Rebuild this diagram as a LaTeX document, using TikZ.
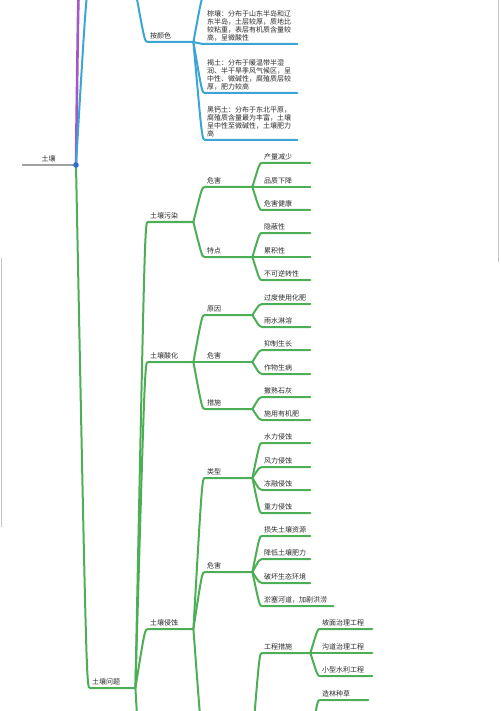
\documentclass[tikz,border=0pt]{standalone}
\usepackage{fontspec}
\newfontfamily\cjk{Noto Sans CJK SC}
\usetikzlibrary{calc}

\definecolor{mmgreen}{HTML}{4DAF55}
\definecolor{mmblue}{HTML}{3BA6D6}
\definecolor{mmpurple}{HTML}{A458C8}
\definecolor{hubblue}{HTML}{2C6FD1}
\definecolor{rootgray}{HTML}{A0A0A0}
\definecolor{edgegray}{HTML}{C4C4C4}
\definecolor{ink}{HTML}{2B2B2B}

\begin{document}
\begin{tikzpicture}[
    x=1pt, y=-1pt,
    topic/.style={anchor=south west, font=\cjk\fontsize{7}{8}\selectfont, text=ink, inner xsep=2pt, inner ysep=2.5pt, align=left, text width=#1},
    topic/.default=41pt,
    gline/.style={draw=mmgreen, line width=2pt, line cap=round},
    bline/.style={draw=mmblue, line width=2pt, line cap=round},
    pline/.style={draw=mmpurple, line width=2.6pt, line cap=round},
    rline/.style={draw=rootgray, line width=1.1pt},
    edge/.style={draw=edgegray, line width=1pt},
    link/.style={to path={.. controls ($(\tikztostart |- \tikztotarget)!0.75!(\tikztotarget)$) .. (\tikztotarget) \tikztonodes}}
]
\useasboundingbox (0,0) rectangle (500,711);
\clip (0,0) rectangle (500,711);

% page edges
\draw[edge] (1.5,258) -- (1.5,527);
\draw[edge] (498.5,0) -- (498.5,262);

% root
\node[topic=49pt, align=center] (soil) at (22,165) {土壤};
\coordinate (hub) at (76,165);

% ends of branches outside the picture
\coordinate (purpletop) at (79,-4);
\coordinate (bluetop) at (90,-12);
\coordinate (bluetopend) at (135,-12);
\coordinate (colorfirst) at (205,-5);
\coordinate (problast) at (148,850);
\coordinate (erosfix) at (205,745);
\coordinate (erosfixend) at (252,745);
\coordinate (biofixend) at (310,745);

% level 1 and 2
\node[topic] (prob) at (90,688) {土壤问题};
\node[topic] (color) at (148,42) {按颜色};
\node[topic] (poll) at (148,222) {土壤污染};
\node[topic] (acid) at (148,362) {土壤酸化};
\node[topic] (eros) at (148,629) {土壤侵蚀};

% soil types
\node[topic=88pt] (brown) at (205,44) {棕壤：分布于山东半岛和辽\\东半岛，土层较厚，质地比\\较粘重，表层有机质含量较\\高，呈微酸性};
\node[topic=88pt] (cinn) at (205,93) {褐土：分布于暖温带半湿\\润、半干旱季风气候区，呈\\中性、微碱性，腐殖质层较\\厚，肥力较高};
\node[topic=88pt] (cherno) at (205,140) {黑钙土：分布于东北平原，\\腐殖质含量最为丰富，土壤\\呈中性至微碱性，土壤肥力\\高};

% level 3
\node[topic=43pt] (pollharm) at (205,187) {危害};
\node[topic=43pt] (pollfeat) at (205,257) {特点};
\node[topic=43pt] (acidcause) at (205,315) {原因};
\node[topic=43pt] (acidharm) at (205,362) {危害};
\node[topic=43pt] (acidfix) at (205,409) {措施};
\node[topic=43pt] (erostype) at (205,478) {类型};
\node[topic=43pt] (erosharm) at (205,572) {危害};
\node[topic=44pt] (engfix) at (262,653) {工程措施};

% level 4
\node[topic=44pt] (yield) at (262,163) {产量减少};
\node[topic=44pt] (quality) at (262,187) {品质下降};
\node[topic=44pt] (health) at (262,210) {危害健康};
\node[topic=44pt] (hidden) at (262,233) {隐蔽性};
\node[topic=44pt] (accum) at (262,257) {累积性};
\node[topic=44pt] (irrev) at (262,280) {不可逆转性};
\node[topic=44pt] (fert) at (262,304) {过度使用化肥};
\node[topic=44pt] (leach) at (262,327) {雨水淋溶};
\node[topic=44pt] (growth) at (262,350) {抑制生长};
\node[topic=44pt] (disease) at (262,374) {作物生病};
\node[topic=44pt] (lime) at (262,397) {撒熟石灰};
\node[topic=44pt] (manure) at (262,420) {施用有机肥};
\node[topic=44pt] (water) at (262,443) {水力侵蚀};
\node[topic=44pt] (wind) at (262,467) {风力侵蚀};
\node[topic=44pt] (freeze) at (262,490) {冻融侵蚀};
\node[topic=44pt] (gravity) at (262,513) {重力侵蚀};
\node[topic=44pt] (loss) at (262,536) {损失土壤资源};
\node[topic=44pt] (fertility) at (262,559) {降低土壤肥力};
\node[topic=44pt] (eco) at (262,583) {破坏生态环境};
\node[topic=67pt] (silt) at (262,606) {淤塞河道，加剧洪涝};
\node[topic=48pt] (slope) at (320,629) {坡面治理工程};
\node[topic=48pt] (gully) at (320,653) {沟道治理工程};
\node[topic=48pt] (hydro) at (320,676) {小型水利工程};
\node[topic=44pt] (forest) at (320,700) {造林种草};

% branches from the root
\draw[rline] (soil.south west) -- (hub);
\draw[pline, link] (hub) to (purpletop);
\draw[bline, link] (hub) to (bluetop) -- (bluetopend);
\draw[gline, link] (hub) to (prob.south west) -- (prob.south east);

% colour branch
\draw[bline, link] (bluetopend) to (color.south west) -- (color.south east);
\draw[bline, link] (color.south east) to (colorfirst);
\draw[bline, link] (color.south east) to (brown.south west) -- (brown.south east);
\draw[bline, link] (color.south east) to (cinn.south west) -- (cinn.south east);
\draw[bline, link] (color.south east) to (cherno.south west) -- (cherno.south east);

% problems
\draw[gline, link] (prob.south east) to (poll.south west) -- (poll.south east);
\draw[gline, link] (prob.south east) to (acid.south west) -- (acid.south east);
\draw[gline, link] (prob.south east) to (eros.south west) -- (eros.south east);
\draw[gline, link] (prob.south east) to (problast);

\draw[gline, link] (poll.south east) to (pollharm.south west) -- (pollharm.south east);
\draw[gline, link] (poll.south east) to (pollfeat.south west) -- (pollfeat.south east);
\draw[gline, link] (pollharm.south east) to (yield.south west) -- (yield.south east);
\draw[gline, link] (pollharm.south east) to (quality.south west) -- (quality.south east);
\draw[gline, link] (pollharm.south east) to (health.south west) -- (health.south east);
\draw[gline, link] (pollfeat.south east) to (hidden.south west) -- (hidden.south east);
\draw[gline, link] (pollfeat.south east) to (accum.south west) -- (accum.south east);
\draw[gline, link] (pollfeat.south east) to (irrev.south west) -- (irrev.south east);

\draw[gline, link] (acid.south east) to (acidcause.south west) -- (acidcause.south east);
\draw[gline, link] (acid.south east) to (acidharm.south west) -- (acidharm.south east);
\draw[gline, link] (acid.south east) to (acidfix.south west) -- (acidfix.south east);
\draw[gline, link] (acidcause.south east) to (fert.south west) -- (fert.south east);
\draw[gline, link] (acidcause.south east) to (leach.south west) -- (leach.south east);
\draw[gline, link] (acidharm.south east) to (growth.south west) -- (growth.south east);
\draw[gline, link] (acidharm.south east) to (disease.south west) -- (disease.south east);
\draw[gline, link] (acidfix.south east) to (lime.south west) -- (lime.south east);
\draw[gline, link] (acidfix.south east) to (manure.south west) -- (manure.south east);

\draw[gline, link] (eros.south east) to (erostype.south west) -- (erostype.south east);
\draw[gline, link] (eros.south east) to (erosharm.south west) -- (erosharm.south east);
\draw[gline, link] (eros.south east) to (erosfix) -- (erosfixend);
\draw[gline, link] (erostype.south east) to (water.south west) -- (water.south east);
\draw[gline, link] (erostype.south east) to (wind.south west) -- (wind.south east);
\draw[gline, link] (erostype.south east) to (freeze.south west) -- (freeze.south east);
\draw[gline, link] (erostype.south east) to (gravity.south west) -- (gravity.south east);
\draw[gline, link] (erosharm.south east) to (loss.south west) -- (loss.south east);
\draw[gline, link] (erosharm.south east) to (fertility.south west) -- (fertility.south east);
\draw[gline, link] (erosharm.south east) to (eco.south west) -- (eco.south east);
\draw[gline, link] (erosharm.south east) to (silt.south west) -- (silt.south east);
\draw[gline, link] (erosfixend) to (engfix.south west) -- (engfix.south east);
\draw[gline, link] (engfix.south east) to (slope.south west) -- (slope.south east);
\draw[gline, link] (engfix.south east) to (gully.south west) -- (gully.south east);
\draw[gline, link] (engfix.south east) to (hydro.south west) -- (hydro.south east);
\draw[gline, link] (biofixend) to (forest.south west) -- (forest.south east);

\fill[hubblue] (hub) circle (2.8pt);

\end{tikzpicture}
\end{document}
